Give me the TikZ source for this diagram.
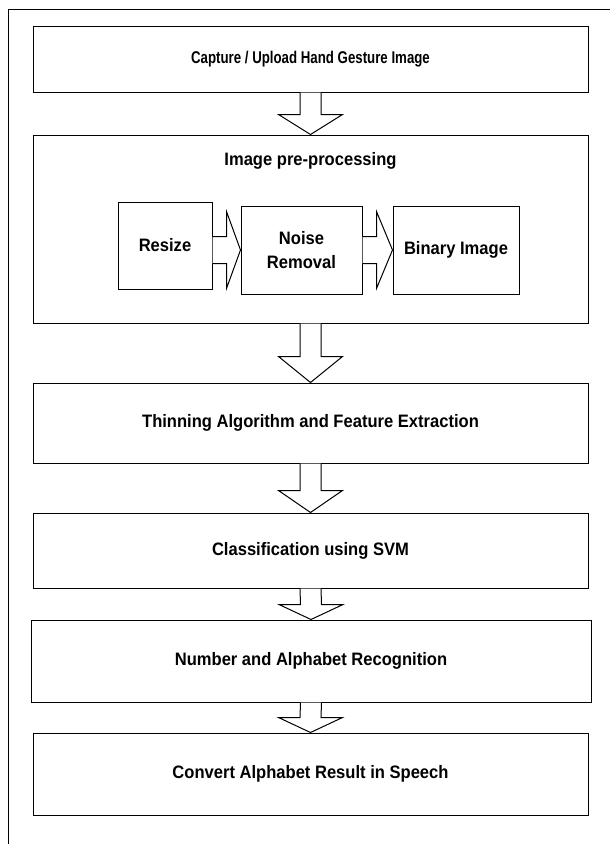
\documentclass[tikz,border=0pt]{standalone}
\usepackage{fontspec}
\setmainfont{Liberation Sans}[FakeStretch=0.92]
\newfontfamily\narrowsans{Liberation Sans}[FakeStretch=0.78]
\usetikzlibrary{positioning, calc}

\newcommand{\fatdown}[3]{%
  \draw[fatarrow] ($(#1.south)+(-10.5,0)$) -- ($(#2.north)+(-10.5,#3)$) -- ++(-21.5,0) -- (#2.north) -- ++(32,#3) -- ++(-21.5,0) -- ($(#1.south)+(10.5,0)$);}
\newcommand{\fatright}[3]{%
  \draw[fatarrow] ($(#1.east |- #2.west)+(0,13.5)$) -- ($(#2.west)+(-#3,13.5)$) -- ++(0,25) -- (#2.west) -- ++(-#3,-38.5) -- ++(0,25) -- ($(#1.east |- #2.west)+(0,-13.5)$);}

\begin{document}
\begin{tikzpicture}[
        x=1pt, y=1pt,
        block/.style={
            rectangle,
            draw=black,
            line width=1pt,
            inner sep=0pt,
            align=center,
            font=\bfseries\fontsize{18}{24}\selectfont
        },
        fatarrow/.style={
            draw=black,
            fill=white,
            line width=1pt,
            line join=miter
        }
    ]
        \useasboundingbox (0,0) rectangle (610,-844);
        \draw [line width=1pt] (8,-844) -- (8,-9) -- (610,-9);

        \node [block, minimum width=555, minimum height=66, font=\narrowsans\bfseries\fontsize{17}{20}\selectfont] (capture) at (310.5,-59) {Capture / Upload Hand Gesture Image};
        \node [block, minimum width=555, minimum height=188] (prep) at (310.5,-229) {};
        \node [block, draw=none] (preptitle) at (310.5,-161) {Image pre-processing};
        \node [block, minimum width=94, minimum height=87] (resize) at (165,-245.5) {Resize};
        \node [block, minimum width=121, minimum height=88] (noise) at (301.5,-250) {Noise\\Removal};
        \node [block, minimum width=126, minimum height=88] (binary) at (456,-250) {Binary Image};
        \node [block, minimum width=555, minimum height=80] (thinning) at (310.5,-423) {Thinning Algorithm and Feature Extraction};
        \node [block, minimum width=555, minimum height=75] (classify) at (310.5,-550.5) {Classification using SVM};
        \node [block, minimum width=560, minimum height=82] (recog) at (311,-661) {Number and Alphabet Recognition};
        \node [block, minimum width=555, minimum height=82] (speech) at (310.5,-774) {Convert Alphabet Result in Speech};

        \fatdown{capture}{prep}{20}
        \fatright{resize}{noise}{14}
        \fatright{noise}{binary}{16}
        \fatdown{prep}{thinning}{26}
        \fatdown{thinning}{classify}{22}
        \fatdown{classify}{recog}{15}
        \fatdown{recog}{speech}{15}
    \end{tikzpicture}
\end{document}
